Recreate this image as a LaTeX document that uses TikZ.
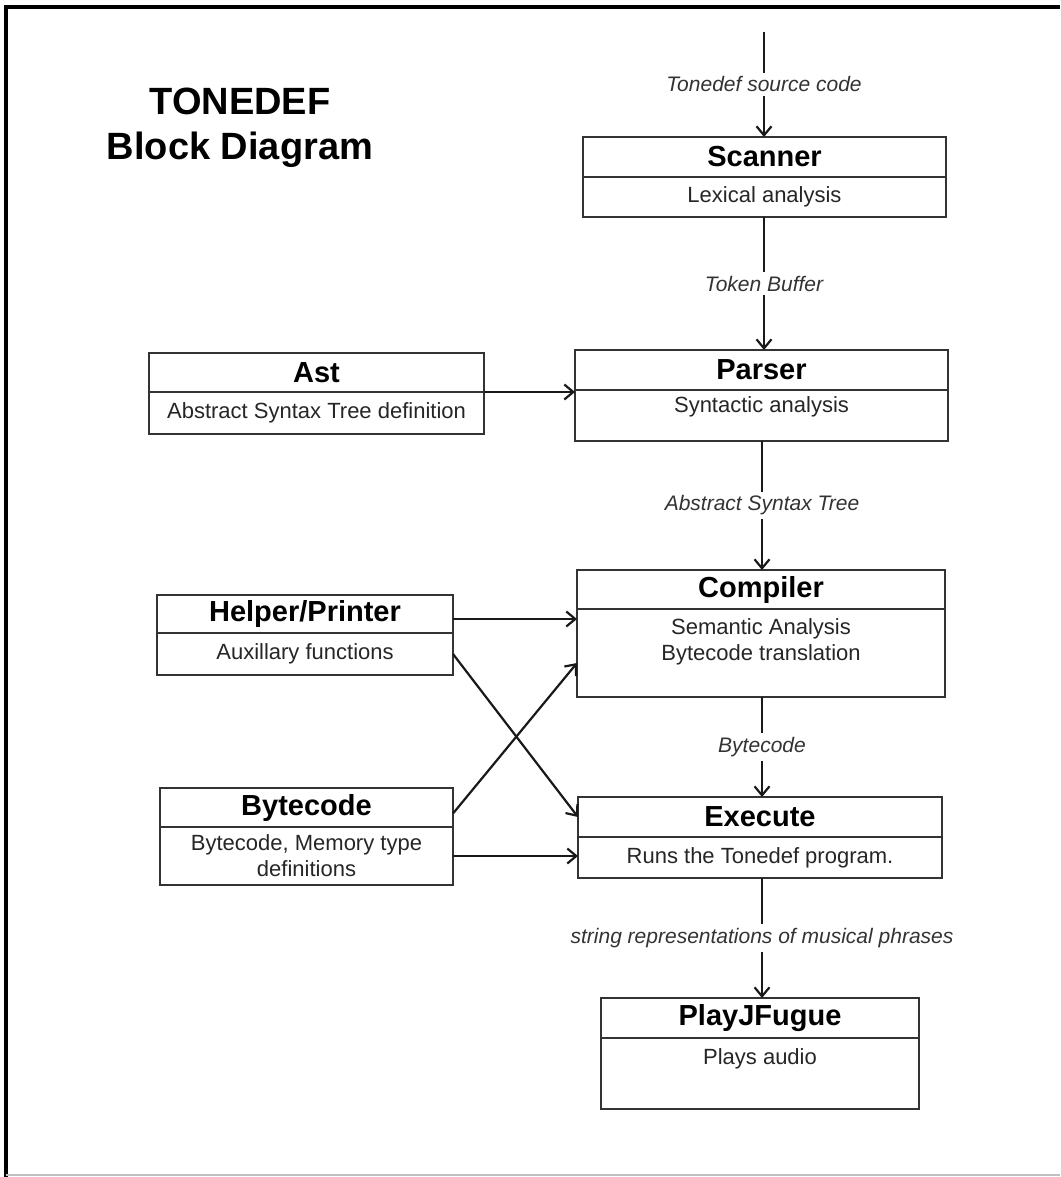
\documentclass[tikz,border=0pt]{standalone}
\usepackage{fontspec}
\setmainfont{Liberation Sans}
\usetikzlibrary{positioning, arrows.meta}

\begin{document}
\begin{tikzpicture}[
  x=0.5pt, y=-0.5pt,
  node distance=0pt,
  head/.style={rectangle, draw=black!80, line width=1pt, fill=white,
               outer sep=0pt, inner sep=1pt, minimum height=20pt,
               font=\fontsize{14.5}{17}\selectfont\bfseries},
  body/.style={rectangle, draw=black!80, line width=1pt, fill=white,
               outer sep=0pt, inner sep=1pt, align=center,
               font=\fontsize{11}{13}\selectfont, text=black!85},
  lbl/.style={fill=white, inner sep=2pt,
              font=\fontsize{10.5}{12}\selectfont\itshape, text=black!80},
  arr/.style={-{Straight Barb[length=4.5pt, width=7.5pt]}, line width=1.1pt, draw=black!90}
]
\useasboundingbox (0,0) rectangle (1060,1177);
% frame
\draw[line width=2pt] (6,1177) -- (6,7) -- (1060,7);
\draw[black!25, line width=0.8pt] (6,1175) -- (1060,1175);

\node[font=\fontsize{19}{22.5}\selectfont\bfseries, align=center] (title) at (240,127.5) {TONEDEF\\Block Diagram};

% main chain
\coordinate (src) at (764,32);
\node[head, minimum width=181.5pt] (scan) at (764.5,157) {Scanner};
\node[body, below=of scan, minimum width=181.5pt, minimum height=20pt] (scanb) {Lexical analysis};
\node[head, minimum width=186.5pt] (pars) at (761.5,370) {Parser};
\node[body, below=of pars, minimum width=186.5pt, minimum height=25.5pt] (parsb) {Syntactic analysis\\[-6pt]\strut};
\node[head, minimum width=184pt, minimum height=19.5pt] (comp) at (761,589.5) {Compiler};
\node[body, below=of comp, minimum width=184pt, minimum height=44pt] (compb) {Semantic Analysis\\Bytecode translation\\[-3pt]\strut};
\node[head, minimum width=182pt] (exec) at (760,817) {Execute};
\node[body, below=of exec, minimum width=182pt, minimum height=20.5pt] (execb) {Runs the Tonedef program.};
\node[head, minimum width=159pt] (play) at (760,1018) {PlayJFugue};
\node[body, below=of play, minimum width=159pt, minimum height=35.5pt] (playb) {Plays audio\\ \strut};
\coordinate (spine) at (762,0);

% side blocks
\node[head, minimum width=167.5pt, minimum height=19.5pt] (ast) at (316.5,372.5) {Ast};
\node[body, below=of ast, minimum width=167.5pt, minimum height=21pt] (astb) {Abstract Syntax Tree definition};
\node[head, minimum width=148pt, minimum height=19pt] (help) at (305,614) {Helper/Printer};
\node[body, below=of help, minimum width=148pt, minimum height=21pt] (helpb) {Auxillary functions};
\node[head, minimum width=146.5pt, minimum height=19.5pt] (byte) at (306.5,807.5) {Bytecode};
\node[body, below=of byte, minimum width=146.5pt, minimum height=29pt] (byteb) {Bytecode, Memory type\\definitions};

% connectors
\draw[arr] (src) -- node[lbl] {Tonedef source code} (src |- scan.north);
\draw[arr] (scanb.south -| src) -- node[lbl] {Token Buffer} (pars.north -| src);
\draw[arr] (parsb.south -| spine) -- node[lbl] {Abstract Syntax Tree} (comp.north -| spine);
\draw[arr] (compb.south -| spine) -- node[lbl] {Bytecode} (exec.north -| spine);
\draw[arr] (execb.south -| spine) -- node[lbl] {string representations of musical phrases} (play.north -| spine);
\draw[arr] (ast.south east) -- (ast.south east -| parsb.west);
\draw[arr] ([yshift=-2.5pt]help.east) -- ([yshift=-2.5pt]help.east -| compb.west);
\draw[arr] (helpb.east) -- (exec.west);
\draw[arr] ([yshift=-3pt]byte.east) -- ([yshift=-5pt]compb.west);
\draw[arr] (byteb.east) -- (byteb.east -| execb.west);
\end{tikzpicture}
\end{document}
